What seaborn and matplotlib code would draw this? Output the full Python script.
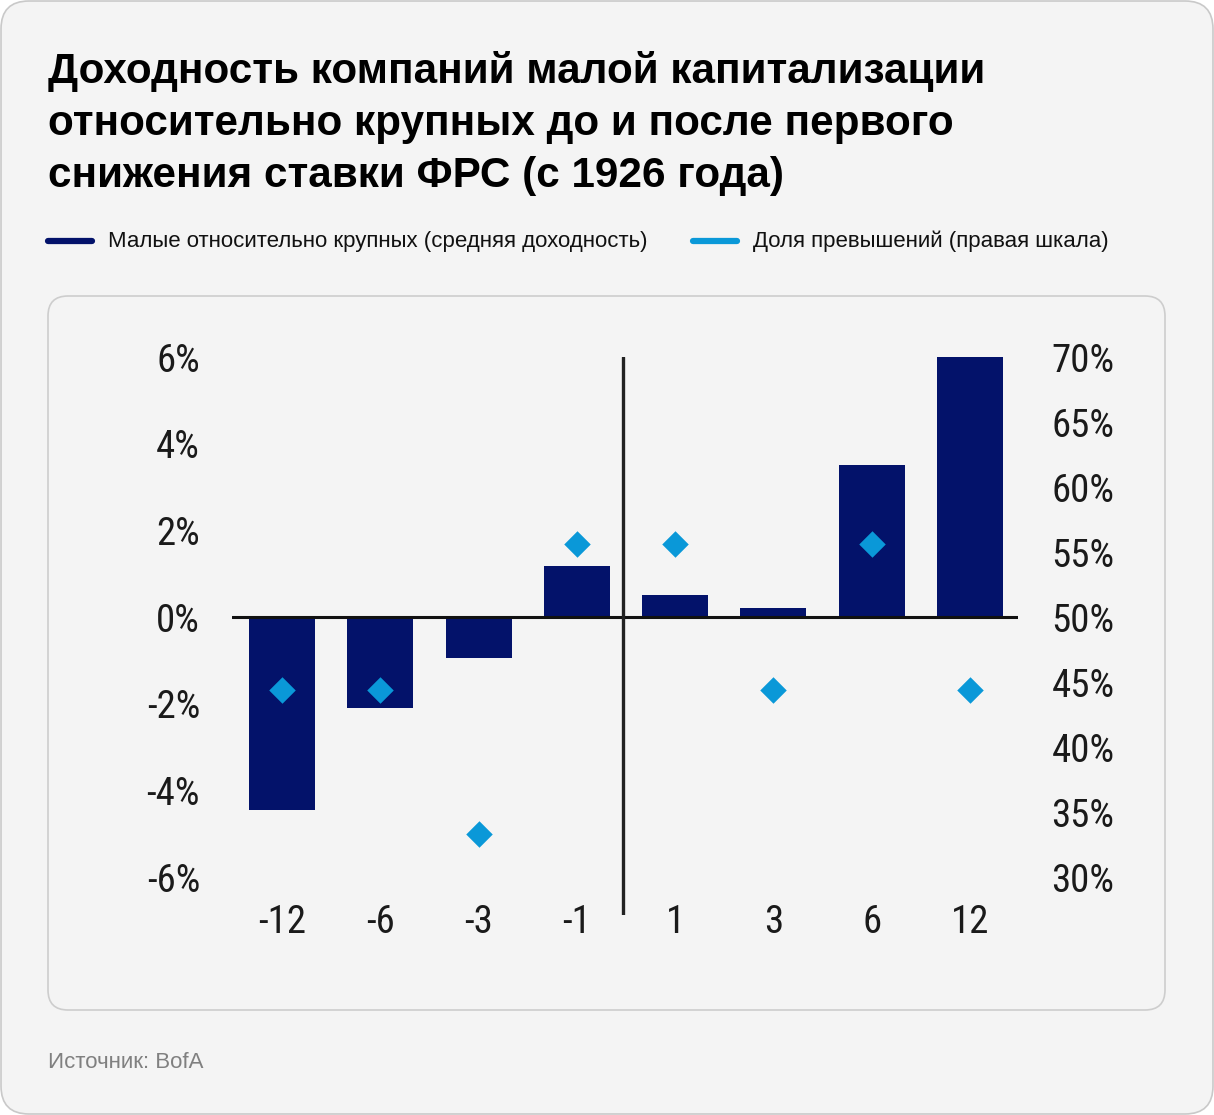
import matplotlib
matplotlib.use('Agg')
import matplotlib.pyplot as plt
import seaborn as sns
from matplotlib import font_manager
from matplotlib.patches import FancyBboxPatch
from matplotlib.lines import Line2D

# Data
months = ['-12', '-6', '-3', '-1', '1', '3', '6', '12']
avg_return = [-4.45, -2.1, -0.95, 1.18, 0.5, 0.22, 3.5, 6.0]   # %, left axis
hit_rate = [44.4, 44.4, 33.3, 55.6, 55.6, 44.4, 55.6, 44.4]     # %, right axis
left_ticks = [-6, -4, -2, 0, 2, 4, 6]
right_ticks = [30, 35, 40, 45, 50, 55, 60, 65, 70]

title_lines = ['Доходность компаний малой капитализации',
               'относительно крупных до и после первого',
               'снижения ставки ФРС (с 1926 года)']
legend_labels = ['Малые относительно крупных (средняя доходность)',
                 'Доля превышений (правая шкала)']
source = 'Источник: BofA'

navy = '#03126a'
blue = '#0a98d8'
bg = '#f4f4f4'

sns.set_theme(style='white')
names = {f.name for f in font_manager.fontManager.ttflist}
tick_font = next((n for n in ['Liberation Sans Narrow', 'Roboto Condensed', 'Open Sans Condensed']
                  if n in names), 'DejaVu Sans')
plt.rcParams['font.family'] = ['Liberation Sans', 'DejaVu Sans']

W, H = 1214, 1115
fig = plt.figure(figsize=(W / 100, H / 100), dpi=100, facecolor='white')

# background cards (pixel units -> inches)
def card(x, y, w, h, r, ec):
    p = FancyBboxPatch((x / 100, y / 100), w / 100, h / 100,
                       boxstyle=f'round,pad=0,rounding_size={r / 100}',
                       transform=fig.dpi_scale_trans, facecolor=bg,
                       edgecolor=ec, linewidth=1.2, zorder=-2)
    fig.add_artist(p)

card(1, 1, 1212, 1113, 28, '#c9c9c9')
card(48, 105, 1117, 714, 20, '#cdcdcd')

# title
for i, line in enumerate(title_lines):
    fig.text(48 / W, 1 - (83 + i * 52) / H, line, fontsize=30.4, fontweight='bold',
             color='black', va='baseline', ha='left')

# legend
for lx, label, col in [(48, legend_labels[0], navy), (693, legend_labels[1], blue)]:
    fig.add_artist(Line2D([lx / W, (lx + 44) / W], [1 - 241 / H, 1 - 241 / H],
                          transform=fig.transFigure, color=col, lw=4.5,
                          solid_capstyle='round'))
    fig.text((lx + 60) / W, 1 - 241 / H, label, fontsize=16, color='#111111',
             va='center', ha='left')

fig.text(48 / W, 1 - 1063 / H, source, fontsize=16, color='#808080', va='center', ha='left')

# main axes
ax = fig.add_axes([232 / W, 200 / H, 786 / W, 558 / H])
ax.patch.set_visible(False)
ymin = -6.87
sns.barplot(x=months, y=avg_return, order=months, color=navy, saturation=1,
            width=0.67, edgecolor='none', ax=ax)
ax.axhline(0, color='#111111', lw=2.2, zorder=5)
ax.axvline(3.47, color='#222222', lw=2.4, zorder=5)
ax.set_ylim(ymin, 6)
ax.set_yticks(left_ticks)
ax.set_yticklabels([f'{v}%' for v in left_ticks])

ax2 = ax.twinx()
sns.stripplot(x=months, y=hit_rate, order=months, jitter=False, marker='D',
              size=13.5, color=blue, linewidth=0, ax=ax2, zorder=6)
ax2.set_ylim(50 + ymin * 10 / 3, 70)
ax2.set_yticks(right_ticks)
ax2.set_yticklabels([f'{v}%' for v in right_ticks])

ax.set_xlim(-0.51, 7.49)
for a in (ax, ax2):
    for s in a.spines.values():
        s.set_visible(False)
    a.set_xlabel('')
    a.set_ylabel('')
    a.grid(False)
ax.tick_params(axis='y', length=0, pad=23, labelsize=28, labelcolor='#1a1a1a')
ax.tick_params(axis='x', length=0, pad=-8, labelsize=28, labelcolor='#1a1a1a')
ax2.tick_params(axis='y', length=0, pad=24, labelsize=28, labelcolor='#1a1a1a')
for lab in ax.get_xticklabels() + ax.get_yticklabels() + ax2.get_yticklabels():
    lab.set_fontfamily(tick_font)

fig.savefig('out.png', dpi=100, facecolor='white')
